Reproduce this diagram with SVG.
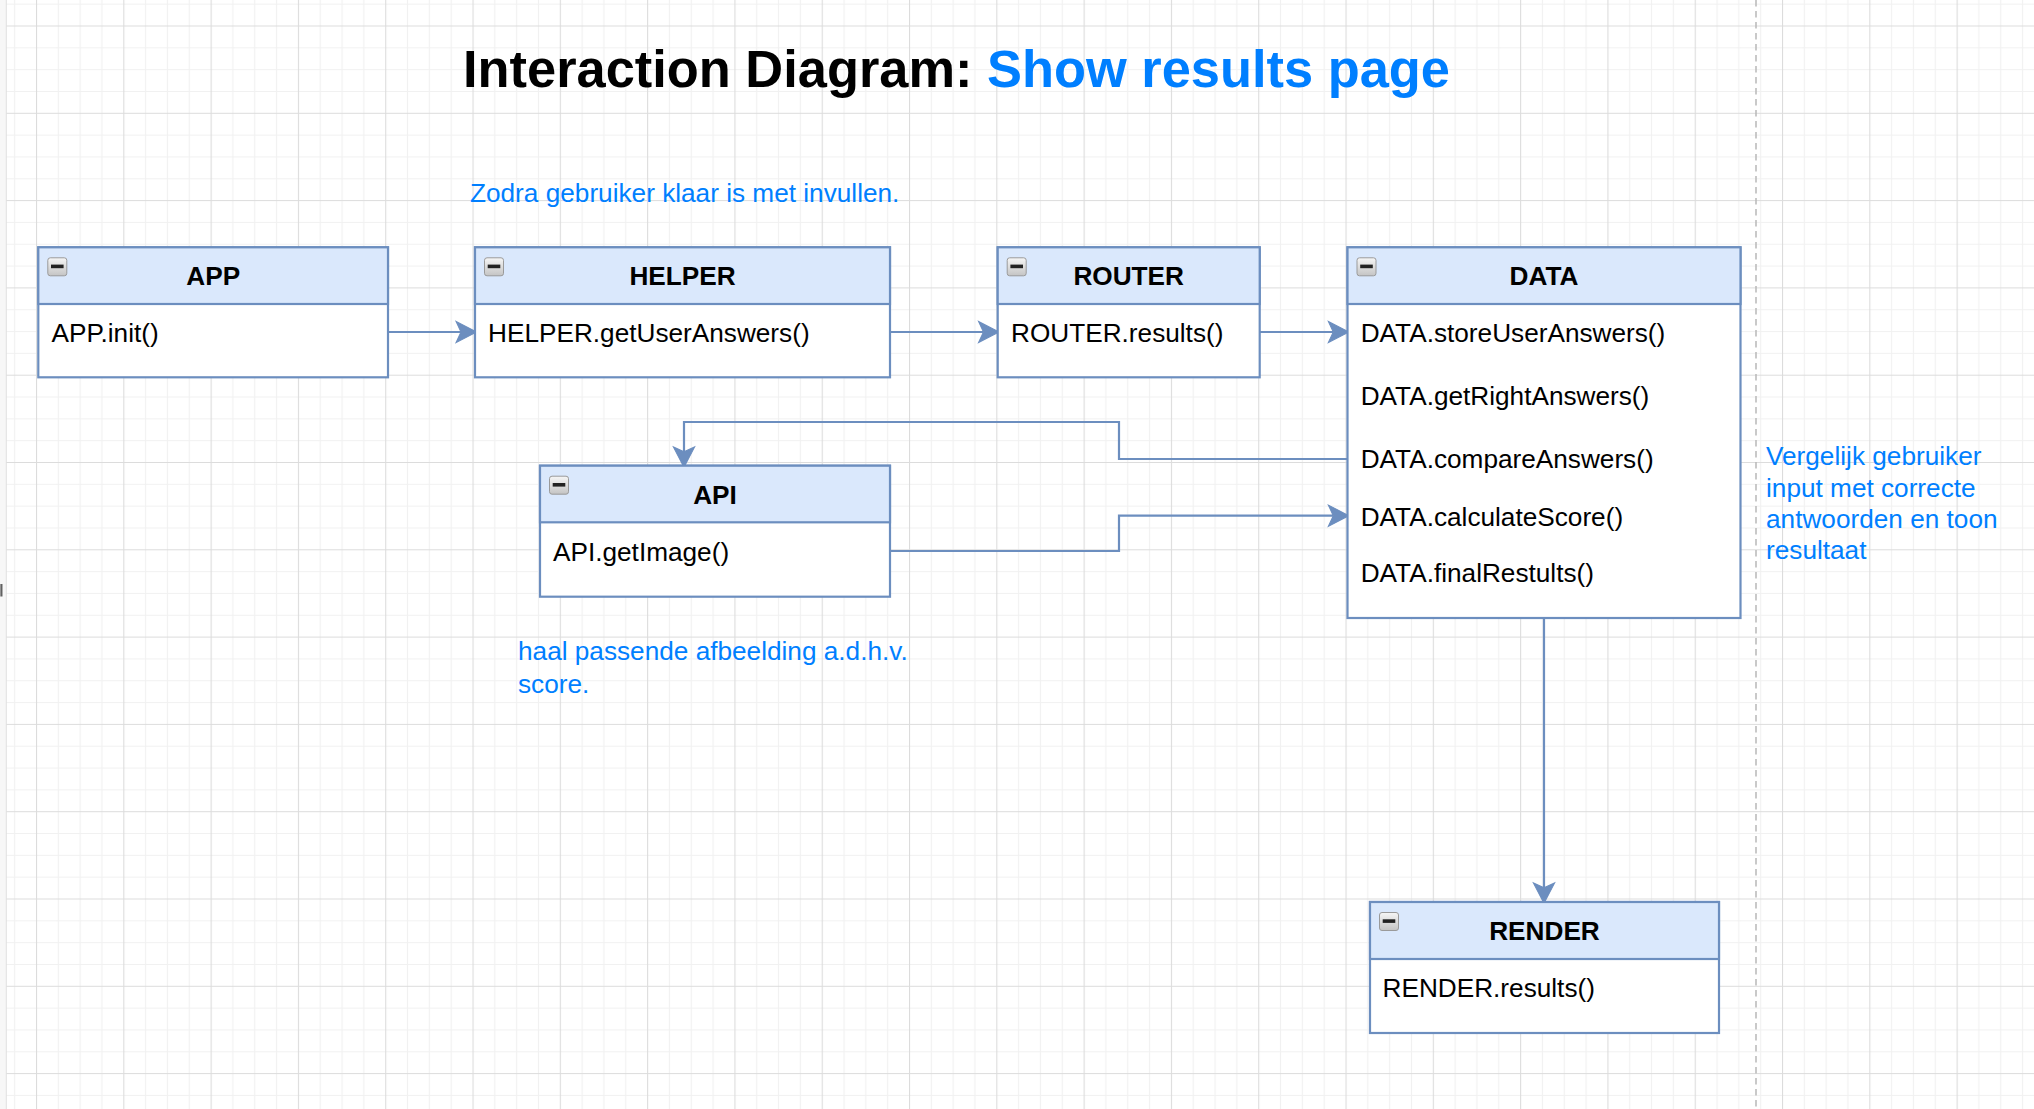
<svg xmlns="http://www.w3.org/2000/svg" width="2034" height="1109" viewBox="0 0 2034 1109">
<style>
  .box { fill: #ffffff; stroke: #6c8ebf; stroke-width: 2.2; }
  .hdr { fill: #dae8fc; stroke: #6c8ebf; stroke-width: 2.2; }
  .title { font-family: "Liberation Sans", Arial, Helvetica, sans-serif; font-size: 26.2px; font-weight: bold; fill: #000000; text-anchor: middle; }
  .item { font-family: "Liberation Sans", Arial, Helvetica, sans-serif; font-size: 26.2px; fill: #000000; }
  .note { font-family: "Liberation Sans", Arial, Helvetica, sans-serif; font-size: 26.2px; fill: #007fff; }
  .conn { fill: none; stroke: #6c8ebf; stroke-width: 2.2; }
  .bar { fill: #222222; }
  .tog { fill: url(#togGrad); stroke: #9a9a9a; stroke-width: 1; }
</style>
<defs>
  <pattern id="grid" patternUnits="userSpaceOnUse" x="36" y="25.5" width="87.3" height="87.3">
    <path d="M22.325,0 V87.3 M44.15,0 V87.3 M65.975,0 V87.3 M0,22.325 H87.3 M0,44.15 H87.3 M0,65.975 H87.3" stroke="#f1f1f1" stroke-width="1.2" fill="none"/>
    <path d="M0.5,0 V87.3 M0,0.5 H87.3" stroke="#dcdcdc" stroke-width="1.2" fill="none"/>
  </pattern>
  <linearGradient id="togGrad" x1="0" y1="0" x2="0" y2="1">
    <stop offset="0" stop-color="#f6f6f6"/>
    <stop offset="1" stop-color="#c4c4c4"/>
  </linearGradient>
  <linearGradient id="markGrad" x1="0" y1="0" x2="1" y2="0">
    <stop offset="0" stop-color="#333333"/>
    <stop offset="1" stop-color="#999999"/>
  </linearGradient>
  <marker id="arrow" markerUnits="userSpaceOnUse" markerWidth="24" markerHeight="24" refX="0" refY="0" viewBox="-6 -11 22 22" orient="auto" overflow="visible">
    <path d="M14.2,0 L-4.5,-9.7 L0,0 L-4.5,9.7 Z" fill="#6c8ebf" stroke="#6c8ebf" stroke-width="1"/>
  </marker>
</defs>

<!-- background & grid -->
<rect x="0" y="0" width="2034" height="1109" fill="#ffffff"/>
<rect x="6" y="0" width="2028" height="1109" fill="url(#grid)"/>
<rect x="0" y="0" width="6" height="1109" fill="#f7f7f7"/>
<line x1="6.3" y1="0" x2="6.3" y2="1109" stroke="#e0e0e0" stroke-width="1"/>
<rect x="0.5" y="584" width="2.2" height="12.5" fill="url(#markGrad)"/>

<!-- swimlane divider -->
<line x1="1756" y1="0" x2="1756" y2="1109" stroke="#b8b8b8" stroke-width="1.5" stroke-dasharray="6.5 4.5"/>

<!-- title -->
<text x="463" y="87" font-family="'Liberation Sans', Arial, Helvetica, sans-serif" font-size="52.4" font-weight="bold" fill="#000000">Interaction Diagram: <tspan fill="#007fff">Show results page</tspan></text>

<!-- notes -->
<g id="note-zodra">
  <text class="note" x="470" y="202">Zodra gebruiker klaar is met invullen.</text>
</g>
<g id="note-haal">
  <text class="note" x="518" y="660">haal passende afbeelding a.d.h.v.</text>
  <text class="note" x="518" y="692.5">score.</text>
</g>
<g id="note-vergelijk">
  <text class="note" x="1766" y="465">Vergelijk gebruiker</text>
  <text class="note" x="1766" y="496.5">input met correcte</text>
  <text class="note" x="1766" y="528">antwoorden en toon</text>
  <text class="note" x="1766" y="559">resultaat</text>
</g>

<!-- connectors -->
<g id="connectors">
  <path class="conn" d="M388,332 H461" marker-end="url(#arrow)"/>
  <path class="conn" d="M890,332 H983.5" marker-end="url(#arrow)"/>
  <path class="conn" d="M1260,332 H1333.3" marker-end="url(#arrow)"/>
  <path class="conn" d="M1347.5,459 H1119 V422 H684 V451.8" marker-end="url(#arrow)"/>
  <path class="conn" d="M890,551 H1119 V515.7 H1333.3" marker-end="url(#arrow)"/>
  <path class="conn" d="M1544,618 V887.8" marker-end="url(#arrow)"/>
</g>

<!-- APP -->
<g id="node-app">
  <rect class="box" x="38.3" y="247.3" width="349.7" height="130"/>
  <rect class="hdr" x="38.3" y="247.3" width="349.7" height="56.7"/>
  <rect class="tog" x="47.8" y="257.8" width="19" height="18" rx="2.5"/>
  <rect class="bar" x="51" y="264.6" width="12.6" height="3.6"/>
  <text class="title" x="213.2" y="285">APP</text>
  <text class="item" x="51.5" y="341.7">APP.init()</text>
</g>

<!-- HELPER -->
<g id="node-helper">
  <rect class="box" x="475" y="247.3" width="415" height="130"/>
  <rect class="hdr" x="475" y="247.3" width="415" height="56.7"/>
  <rect class="tog" x="484.5" y="257.8" width="19" height="18" rx="2.5"/>
  <rect class="bar" x="487.7" y="264.6" width="12.6" height="3.6"/>
  <text class="title" x="682.5" y="285">HELPER</text>
  <text class="item" x="488" y="341.7">HELPER.getUserAnswers()</text>
</g>

<!-- ROUTER -->
<g id="node-router">
  <rect class="box" x="997.7" y="247.3" width="262" height="130"/>
  <rect class="hdr" x="997.7" y="247.3" width="262" height="56.7"/>
  <rect class="tog" x="1007.2" y="257.8" width="19" height="18" rx="2.5"/>
  <rect class="bar" x="1010.4" y="264.6" width="12.6" height="3.6"/>
  <text class="title" x="1128.7" y="285">ROUTER</text>
  <text class="item" x="1011" y="341.7">ROUTER.results()</text>
</g>

<!-- DATA -->
<g id="node-data">
  <rect class="box" x="1347.5" y="247.3" width="393" height="370.7"/>
  <rect class="hdr" x="1347.5" y="247.3" width="393" height="56.7"/>
  <rect class="tog" x="1357" y="257.8" width="19" height="18" rx="2.5"/>
  <rect class="bar" x="1360.2" y="264.6" width="12.6" height="3.6"/>
  <text class="title" x="1544" y="285">DATA</text>
  <text class="item" x="1360.7" y="341.7">DATA.storeUserAnswers()</text>
  <text class="item" x="1360.7" y="405">DATA.getRightAnswers()</text>
  <text class="item" x="1360.7" y="468">DATA.compareAnswers()</text>
  <text class="item" x="1360.7" y="526">DATA.calculateScore()</text>
  <text class="item" x="1360.7" y="582">DATA.finalRestults()</text>
</g>

<!-- API -->
<g id="node-api">
  <rect class="box" x="540" y="465.7" width="350" height="131"/>
  <rect class="hdr" x="540" y="465.7" width="350" height="56.6"/>
  <rect class="tog" x="549.5" y="476.2" width="19" height="18" rx="2.5"/>
  <rect class="bar" x="552.7" y="483" width="12.6" height="3.6"/>
  <text class="title" x="715" y="504">API</text>
  <text class="item" x="553" y="561">API.getImage()</text>
</g>

<!-- RENDER -->
<g id="node-render">
  <rect class="box" x="1370" y="902" width="349" height="131"/>
  <rect class="hdr" x="1370" y="902" width="349" height="57"/>
  <rect class="tog" x="1379.5" y="912.5" width="19" height="18" rx="2.5"/>
  <rect class="bar" x="1382.7" y="919.3" width="12.6" height="3.6"/>
  <text class="title" x="1544.5" y="940">RENDER</text>
  <text class="item" x="1382.5" y="997">RENDER.results()</text>
</g>
</svg>
